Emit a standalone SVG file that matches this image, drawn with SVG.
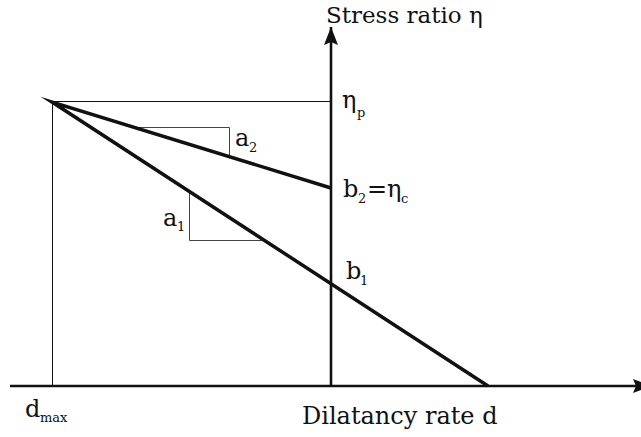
<svg xmlns="http://www.w3.org/2000/svg" width="641" height="437" viewBox="0 0 641 437">
<style>
.axis{stroke:#111;stroke-width:2.6;fill:none}
.thin{stroke:#111;stroke-width:1;fill:none}
.tri{stroke:#444;stroke-width:1;fill:none}
.thick{stroke:#111;stroke-width:3.5;fill:none;stroke-linejoin:miter;stroke-miterlimit:12}
</style>
<defs>
<marker id="arr" viewBox="0 0 18 14" refX="18" refY="7" markerWidth="18" markerHeight="14" markerUnits="userSpaceOnUse" orient="auto">
<path d="M0,0 L18,7 L0,14 L3,7 Z" fill="#111"/>
</marker>
</defs>
<rect width="641" height="437" fill="#fff"/>
<g id="connectors">
<line class="axis" x1="10" y1="386" x2="651" y2="386" marker-end="url(#arr)"/>
<line class="axis" x1="331" y1="386" x2="331" y2="27" marker-end="url(#arr)"/>
<polyline class="thin" points="331,101.5 52.5,101.5 52.5,386"/>
<polyline class="tri" points="138,127.5 229.5,127.5 229.5,157"/>
<polyline class="tri" points="189.5,192 189.5,240.5 263,240.5"/>
<polyline class="thick" points="331,188 52,102 488,386"/>
</g>
<g font-family="DejaVu Serif, serif" font-size="24" fill="#111">
<g id="label-y-axis"><text x="326" y="23" font-size="23">Stress ratio η</text></g>
<g id="label-x-axis"><text x="302" y="424">Dilatancy rate d</text></g>
<g id="label-eta-p"><text x="342" y="108">η</text><text x="357" y="117" font-size="13">p</text></g>
<g id="label-b2"><text x="343" y="197">b</text><text x="358" y="203" font-size="13">2</text><text x="367" y="197">=η</text><text x="401" y="203" font-size="13">c</text></g>
<g id="label-b1"><text x="346" y="279">b</text><text x="360" y="285" font-size="13">1</text></g>
<g id="label-a2"><text x="235" y="146">a</text><text x="249" y="152" font-size="13">2</text></g>
<g id="label-a1"><text x="163" y="226">a</text><text x="177" y="231" font-size="13">1</text></g>
<g id="label-dmax"><text x="25" y="417">d</text><text x="40" y="422" font-size="13">max</text></g>
</g>
</svg>
